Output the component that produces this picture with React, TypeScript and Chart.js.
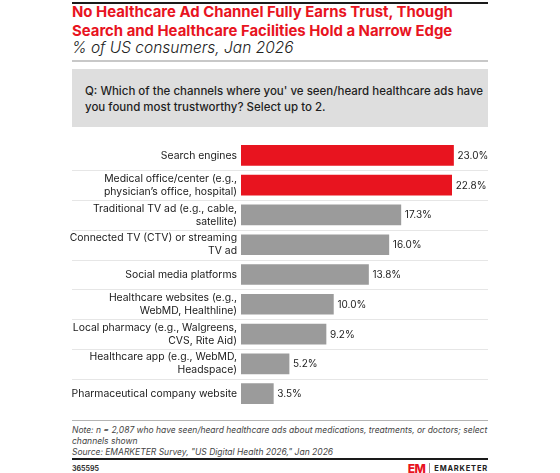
import React, { useEffect, useRef } from "react";
import { Chart, registerables } from "chart.js";

Chart.register(...registerables);

// Survey answers, top to bottom
const categories: string[][] = [
  ["Search engines"],
  ["Medical office/center (e.g.,", "physician’s office, hospital)"],
  ["Traditional TV ad (e.g., cable,", "satellite)"],
  ["Connected TV (CTV) or streaming", "TV ad"],
  ["Social media platforms"],
  ["Healthcare websites (e.g.,", "WebMD, Healthline)"],
  ["Local pharmacy (e.g., Walgreens,", "CVS, Rite Aid)"],
  ["Healthcare app (e.g., WebMD,", "Headspace)"],
  ["Pharmaceutical company website"],
];
const trustShare: number[] = [23.0, 22.8, 17.3, 16.0, 13.8, 10.0, 9.2, 5.2, 3.5];
const leaders: boolean[] = [true, true, false, false, false, false, false, false, false];

const RED = "#e8141f";
const GRAY = "#9b9b9b";
const FONT = 'Inter, "Noto Sans", sans-serif';

// Canvas starts a little left of the content column so long labels have room
const CANVAS_LEFT = 62;
const COLUMN_LEFT = 72;

const rowDividers = {
  id: "rowDividers",
  beforeDatasetsDraw(chart: any) {
    const y = chart.scales.y;
    const ctx = chart.ctx;
    ctx.save();
    ctx.strokeStyle = "#e6e6e6";
    ctx.lineWidth = 1;
    for (let i = 0; i < categories.length - 1; i++) {
      const py = Math.round((y.getPixelForValue(i) + y.getPixelForValue(i + 1)) / 2) + 0.5;
      ctx.beginPath();
      ctx.moveTo(COLUMN_LEFT - CANVAS_LEFT, py);
      ctx.lineTo(chart.width, py);
      ctx.stroke();
    }
    ctx.restore();
  },
};

const valueLabels = {
  id: "valueLabels",
  afterDatasetsDraw(chart: any) {
    const ctx = chart.ctx;
    const meta = chart.getDatasetMeta(0);
    ctx.save();
    ctx.font = `400 10px ${FONT}`;
    ctx.fillStyle = "#222";
    ctx.textBaseline = "middle";
    ctx.textAlign = "left";
    meta.data.forEach((bar: any, i: number) => {
      ctx.fillText(trustShare[i].toFixed(1) + "%", bar.x + 4, bar.y + 0.5);
    });
    ctx.restore();
  },
};

function TrustChart() {
  const ref = useRef<HTMLCanvasElement | null>(null);
  useEffect(() => {
    if (!ref.current) return;
    const chart = new Chart(ref.current, {
      type: "bar",
      data: {
        labels: categories,
        datasets: [
          {
            data: trustShare,
            backgroundColor: leaders.map((l) => (l ? RED : GRAY)),
            barThickness: 20,
            borderWidth: 0,
          },
        ],
      },
      options: {
        indexAxis: "y",
        animation: false,
        responsive: false,
        maintainAspectRatio: false,
        layout: { padding: { left: 0, right: 16, top: 0, bottom: 0 } },
        plugins: { legend: { display: false }, tooltip: { enabled: false } },
        scales: {
          x: { display: false, min: 0, max: 25 },
          y: {
            grid: { display: false, drawTicks: false },
            border: { display: false },
            afterFit(scale: any) {
              scale.width = 179;
            },
            ticks: {
              color: "#1a1a1a",
              padding: 4,
              font: { family: FONT, size: 10.4, weight: 400, lineHeight: 1.25 },
            },
          },
        },
      },
      plugins: [rowDividers, valueLabels],
    });
    return () => chart.destroy();
  }, []);
  return (
    <canvas
      ref={ref}
      width={426}
      height={289}
      style={{ position: "absolute", left: CANVAS_LEFT, top: 130, width: 426, height: 289 }}
    />
  );
}

export default function App() {
  const abs = (s: React.CSSProperties): React.CSSProperties => ({ position: "absolute", ...s });
  return (
    <div style={{ position: "absolute", left: 0, top: 0, width: 560, height: 473, background: "#fff", fontFamily: FONT, overflow: "hidden" }}>
      <div style={abs({ left: 72, top: 2, width: 416, height: 2, background: "#1a1a1a" })} />
      <div style={abs({ left: 72, top: 3, width: 440, color: RED, fontWeight: 700, fontSize: 14.9, lineHeight: "19px", whiteSpace: "nowrap" })}>
        No Healthcare Ad Channel Fully Earns Trust, Though
        <br />
        Search and Healthcare Facilities Hold a Narrow Edge
      </div>
      <div style={abs({ left: 72, top: 38, color: "#222", fontStyle: "italic", fontWeight: 300, fontSize: 15.5, lineHeight: "19px", whiteSpace: "nowrap" })}>
        % of US consumers, Jan 2026
      </div>
      <div style={abs({ left: 72, top: 60, width: 416, height: 2, background: "#c8c8c8" })} />
      <div style={abs({ left: 72, top: 69, width: 416, height: 58, background: "#dedede" })}>
        <div style={abs({ left: 13, top: 13.5, color: "#1e1e1e", fontWeight: 500, fontSize: 11.5, lineHeight: "16.5px", whiteSpace: "nowrap" })}>
          Q: Which of the channels where you' ve seen/heard healthcare ads have
          <br />
          you found most trustworthy? Select up to 2.
        </div>
      </div>
      <TrustChart />
      <div style={abs({ left: 72, top: 420, width: 416, height: 1, background: "#b4b4b4" })} />
      <div style={abs({ left: 72, top: 425, color: "#444", fontStyle: "italic", fontSize: 8.5, lineHeight: "11px", whiteSpace: "nowrap" })}>
        Note: n = 2,087 who have seen/heard healthcare ads about medications, treatments, or doctors; select
        <br />
        channels shown
        <br />
        Source: EMARKETER Survey, "US Digital Health 2026," Jan 2026
      </div>
      <div style={abs({ left: 72, top: 458, width: 416, height: 2, background: "#1a1a1a" })} />
      <div style={abs({ left: 72, top: 464, color: "#333", fontWeight: 700, fontSize: 7, lineHeight: "10px" })}>365595</div>
      <div style={abs({ right: 72, top: 462, height: 13, display: "flex", alignItems: "center" })}>
        <span style={{ color: RED, fontWeight: 800, fontSize: 12, lineHeight: "13px", letterSpacing: -0.5 }}>EM</span>
        <span style={{ width: 1, height: 12, background: "#999", margin: "0 4px" }} />
        <span style={{ color: "#222", fontWeight: 700, fontSize: 7.5, letterSpacing: 0.8, lineHeight: "13px" }}>EMARKETER</span>
      </div>
    </div>
  );
}
